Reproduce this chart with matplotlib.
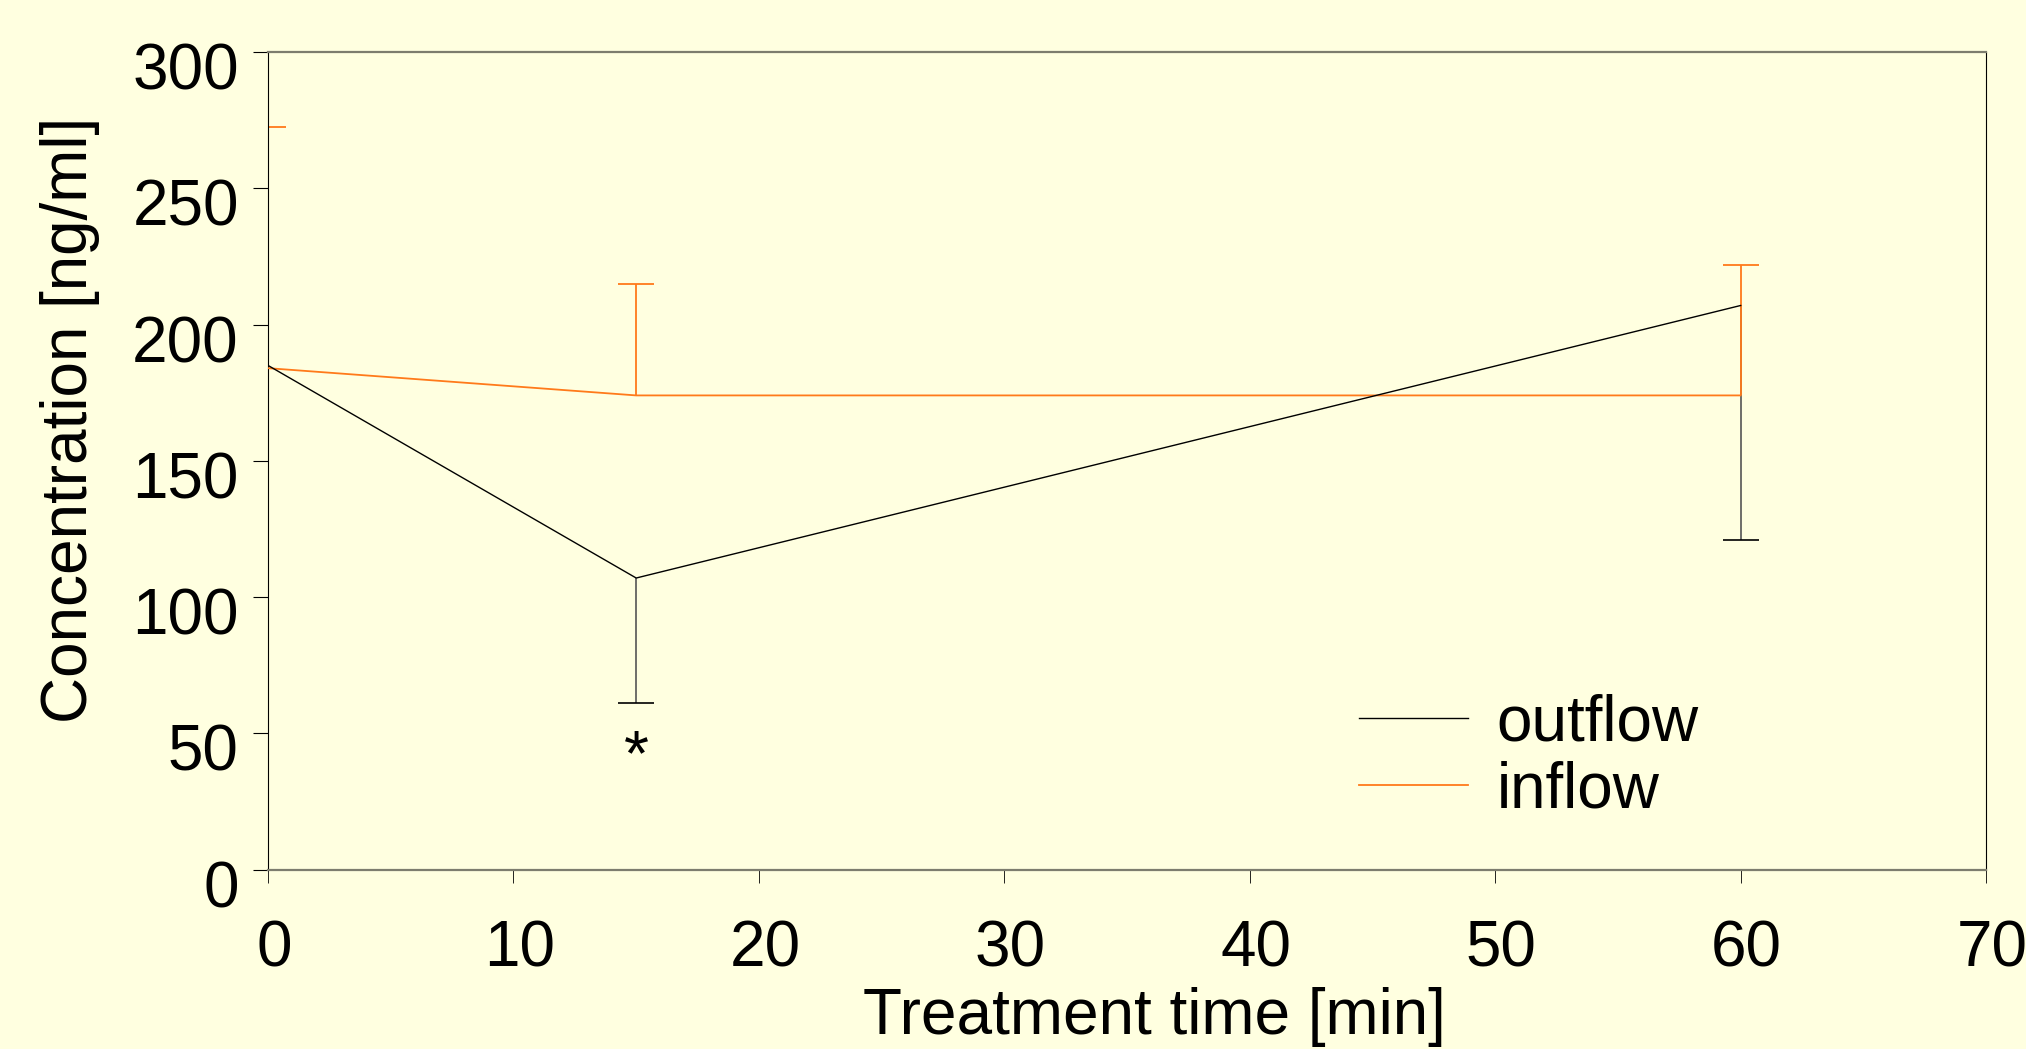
import matplotlib
matplotlib.use("Agg")
import matplotlib.pyplot as plt
import numpy as np
from matplotlib.transforms import ScaledTranslation

# ---------------------------------------------------------
# Data
# ---------------------------------------------------------
time_min = [0, 15, 60]

outflow_mean = [185, 107, 207]
outflow_sd_low = [np.nan, 46, 86]      # only the lower half of the bar is shown

inflow_mean = [184, 174, 174]
inflow_sd_high = [88.5, 41, 48]       # only the upper half of the bar is shown

x_ticks = [0, 10, 20, 30, 40, 50, 60, 70]
y_ticks = [0, 50, 100, 150, 200, 250, 300]

bg = "#ffffe0"
orange = "#ff7a1a"
spine_grey = "#7d7d6e"
fs = 46

plt.rcParams["font.family"] = ["Liberation Sans", "DejaVu Sans"]

fig = plt.figure(figsize=(20.26, 10.49), dpi=100, facecolor=bg)
ax = fig.add_axes([0.1323, 0.1710, 0.8480, 0.7794], facecolor=bg)

t = np.array(time_min, dtype=float)
om = np.array(outflow_mean, dtype=float)
olo = np.array(outflow_sd_low, dtype=float)
im = np.array(inflow_mean, dtype=float)
ihi = np.array(inflow_sd_high, dtype=float)

# main lines
ax.plot(t, im, color=orange, lw=1.3, label="inflow", zorder=3)
ax.plot(t, om, color="black", lw=1.0, label="outflow", zorder=4)

# one-sided error bars
ok = ~np.isnan(olo)
ax.vlines(t[ok], om[ok] - olo[ok], om[ok], color="#555555", lw=1.2, zorder=2)
ax.plot(t[ok], om[ok] - olo[ok], ls="none", marker="_", markersize=26,
        markeredgewidth=1.2, color="black", zorder=2)
ax.vlines(t, im, im + ihi, color=orange, lw=1.3, zorder=2)
ax.plot(t, im + ihi, ls="none", marker="_", markersize=26,
        markeredgewidth=1.3, color=orange, zorder=2)

# significance marker
ax.text(15, 41, "*", ha="center", va="center", fontsize=fs, color="black")

ax.set_xlim(0, 70)
ax.set_ylim(0, 300)
ax.set_xticks(x_ticks)
ax.set_yticks(y_ticks)

ax.tick_params(axis="y", direction="out", length=11, width=0.8, pad=10,
               labelsize=fs, colors="black")
ax.tick_params(axis="x", direction="out", length=9, width=0.6, pad=27,
               labelsize=fs, colors="black")
for lab in ax.get_yticklabels():
    lab.set_transform(lab.get_transform() + ScaledTranslation(0, -0.14, fig.dpi_scale_trans))
for lab in ax.get_xticklabels():
    lab.set_transform(lab.get_transform() + ScaledTranslation(0.06, 0, fig.dpi_scale_trans))

for side in ["left", "right"]:
    ax.spines[side].set_color("black")
    ax.spines[side].set_linewidth(0.8)
for side in ["top", "bottom"]:
    ax.spines[side].set_color(spine_grey)
    ax.spines[side].set_linewidth(1.6)

ax.set_xlabel("Treatment time [min]", fontsize=fs)
ax.xaxis.set_label_coords(0.516, -0.143)
ax.set_ylabel("Concentration [ng/ml]", fontsize=fs)
ax.yaxis.set_label_coords(-0.098, 0.55)

handles, labels = ax.get_legend_handles_labels()
order = [1, 0]
leg = ax.legend([handles[i] for i in order], [labels[i] for i in order],
                loc="upper left", bbox_to_anchor=(0.635, 0.216), frameon=False,
                fontsize=fs, handlelength=1.7, handletextpad=0.45,
                borderpad=0, borderaxespad=0, labelspacing=0.12)

fig.savefig("out.png", dpi=100, facecolor=bg)
